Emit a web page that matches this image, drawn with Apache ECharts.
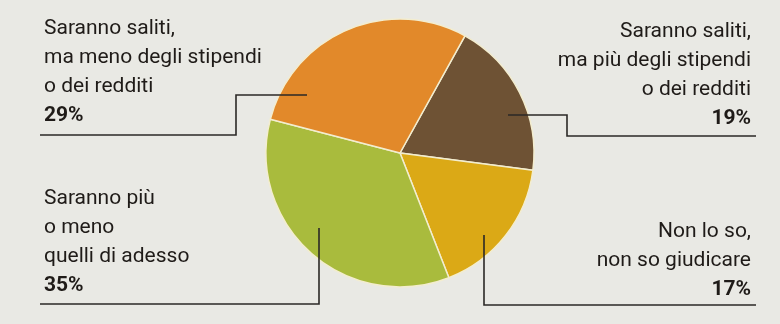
<!DOCTYPE html>
<html>
<head>
<meta charset="utf-8">
<script src="https://cdn.jsdelivr.net/npm/echarts@6/dist/echarts.min.js"></script>
<style>
html,body{margin:0;padding:0;background:#e9e9e4;}
#c{width:780px;height:324px;}
</style>
</head>
<body>
<div id="c"></div>
<script>
// Data (clockwise from the top-right slice)
const categories = [
  "Saranno saliti,\nma più degli stipendi\no dei redditi",
  "Non lo so,\nnon so giudicare",
  "Saranno più\no meno\nquelli di adesso",
  "Saranno saliti,\nma meno degli stipendi\no dei redditi"
];
const values = [19, 17, 35, 29];
const colors = ["#6e5234", "#dba916", "#a9bb3d", "#e2892a"];

// Label placement and leader lines (layout only)
const labelPos = [
  {x: 751, y: 17, align: 'right', pts: [[508,115],[567,115],[567,136],[756,136]]},
  {x: 751, y: 217, align: 'right', pts: [[484,235],[484,305],[756,305]]},
  {x: 44, y: 184, align: 'left', pts: [[319,228],[319,304],[40,304]]},
  {x: 44, y: 14, align: 'left', pts: [[307,95],[236,95],[236,135],[40,135]]}
];

const chart = echarts.init(document.getElementById('c'), null, {renderer: 'canvas'});
const FONT = 'Roboto, "Liberation Sans", Arial, sans-serif';

chart.setOption({
  backgroundColor: '#e9e9e4',
  animation: false,
  graphic: labelPos.map(L => ({
    type: 'polyline', z: 100, silent: true,
    shape: {points: L.pts},
    style: {stroke: '#2b2826', lineWidth: 1.6, fill: null}
  })),
  series: [{
    type: 'pie',
    center: [400, 153],
    radius: 134,
    startAngle: 61,
    clockwise: true,
    data: categories.map((n, i) => ({name: n, value: values[i], itemStyle: {color: colors[i]}})),
    itemStyle: {borderColor: '#f3edcf', borderWidth: 1.5},
    label: {
      show: true,
      formatter: p => '{t|' + p.name.split('\n').join('}\n{t|') + '}\n{b|' + p.value + '%}',
      rich: {
        t: {fontFamily: FONT, fontSize: 21, color: '#1f1b18', lineHeight: 29},
        b: {fontFamily: FONT, fontSize: 21, fontWeight: 'bold', color: '#1f1b18', lineHeight: 29}
      }
    },
    labelLine: {show: false},
    labelLayout: function (params) {
      const L = labelPos[params.dataIndex];
      return {x: L.x, y: L.y, align: L.align, verticalAlign: 'top'};
    },
    emphasis: {disabled: true}
  }]
});
</script>
</body>
</html>
